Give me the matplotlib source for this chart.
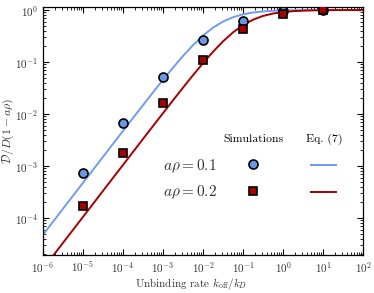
import matplotlib
matplotlib.use('Agg')
import matplotlib.pyplot as plt
from matplotlib.lines import Line2D

# 字体设置：Computer Modern 风格
plt.rcParams['font.family'] = ['cmr10', 'DejaVu Serif']
plt.rcParams['mathtext.fontset'] = 'cm'
plt.rcParams['axes.formatter.use_mathtext'] = True
plt.rcParams['axes.unicode_minus'] = False

# 模拟数据
sim_k = [1e-5, 1e-4, 1e-3, 1e-2, 1e-1, 1e0, 1e1]
sim_01 = [7.4e-4, 6.7e-3, 0.051, 0.27, 0.61, 0.95, 1.0]
sim_02 = [1.7e-4, 1.8e-3, 0.016, 0.11, 0.44, 0.84, 0.98]

# Eq. (7) 曲线（从图中读取，每 1/4 个数量级一个点）
curve_k = [1e-6, 1.78e-6, 3.16e-6, 5.62e-6, 1e-5, 1.78e-5, 3.16e-5, 5.62e-5,
           1e-4, 1.78e-4, 3.16e-4, 5.62e-4, 1e-3, 1.78e-3, 3.16e-3, 5.62e-3,
           1e-2, 1.78e-2, 3.16e-2, 5.62e-2, 1e-1, 0.178, 0.316, 0.562,
           1.0, 1.78, 3.16, 5.62, 10.0, 17.8, 31.6, 56.2, 100.0]
curve_01 = [4.76e-5, 8.47e-5, 1.51e-4, 2.68e-4, 4.76e-4, 8.46e-4, 1.50e-3, 2.67e-3,
            4.74e-3, 8.40e-3, 1.48e-2, 2.61e-2, 4.55e-2, 7.81e-2, 0.131, 0.211,
            0.323, 0.458, 0.601, 0.728, 0.826, 0.894, 0.938, 0.964,
            0.979, 0.988, 0.993, 0.996, 0.998, 0.999, 0.999, 1.0, 1.0]
curve_02 = [1.05e-5, 1.87e-5, 3.33e-5, 5.92e-5, 1.05e-4, 1.87e-4, 3.33e-4, 5.92e-4,
            1.05e-3, 1.87e-3, 3.32e-3, 5.88e-3, 1.04e-2, 1.84e-2, 3.22e-2, 5.59e-2,
            9.52e-2, 0.158, 0.250, 0.372, 0.513, 0.652, 0.769, 0.855,
            0.913, 0.949, 0.971, 0.983, 0.991, 0.995, 0.997, 0.998, 0.999]

blue_line = '#6E9DF0'
blue_mark = '#6A98E6'
red = '#A80000'
txt = '#333333'

fig = plt.figure(figsize=(3.74, 2.93), dpi=100)
ax = fig.add_axes([0.115, 0.130, 0.856, 0.846])

ax.plot(curve_k, curve_01, color=blue_line, lw=1.4, zorder=2)
ax.plot(curve_k, curve_02, color=red, lw=1.4, zorder=2)
ax.plot(sim_k, sim_01, 'o', color=blue_mark, mec='black', mew=1.2, ms=6.5, zorder=3)
ax.plot(sim_k, sim_02, 's', color=red, mec='black', mew=1.2, ms=5.5, zorder=3)

ax.set_xscale('log')
ax.set_yscale('log')
ax.set_xlim(1e-6, 1e2)
ax.set_ylim(1.95e-5, 1.14)
ax.set_xticks([10.0 ** e for e in range(-6, 3)])
ax.set_yticks([10.0 ** e for e in range(-4, 1)])

ax.tick_params(which='both', direction='in', top=True, right=True, labelsize=8,
               labelcolor=txt)
ax.tick_params(which='major', length=4, width=0.8)
ax.tick_params(which='minor', length=2, width=0.6)
for s in ax.spines.values():
    s.set_linewidth(0.9)

ax.set_xlabel(r'Unbinding rate $k_{\rm off}/k_D$', fontsize=8, color=txt)
ax.xaxis.set_label_coords(0.4625, -0.085)
ax.set_ylabel(r'$\mathcal{D}/D(1-a\rho)$', fontsize=8.5, color=txt)
ax.yaxis.set_label_coords(-0.083, 0.5)

# 自定义图例
h_sim = [Line2D([], [], ls='none', marker='o', color=blue_mark, mec='black', mew=1.2, ms=6.5),
         Line2D([], [], ls='none', marker='s', color=red, mec='black', mew=1.2, ms=5.5)]
h_eq = [Line2D([], [], color=blue_line, lw=1.4),
        Line2D([], [], color=red, lw=1.4)]
leg1 = ax.legend(h_sim, ['', ''], title='Simulations', loc='center',
                 bbox_to_anchor=(0.656, 0.355), frameon=False, handletextpad=0,
                 labelspacing=1.05, alignment='center', title_fontsize=8.5,
                 handlelength=1.5)
ax.add_artist(leg1)
ax.legend(h_eq, ['', ''], title='Eq. (7)', loc='center',
          bbox_to_anchor=(0.877, 0.355), frameon=False, handletextpad=0,
          labelspacing=1.05, alignment='center', title_fontsize=8.5,
          handlelength=1.8)
ax.text(0.375, 0.359, r'$a\rho = 0.1$', transform=ax.transAxes, fontsize=11,
        va='center', color=txt)
ax.text(0.375, 0.254, r'$a\rho = 0.2$', transform=ax.transAxes, fontsize=11,
        va='center', color=txt)

fig.savefig('out.png', dpi=100)
